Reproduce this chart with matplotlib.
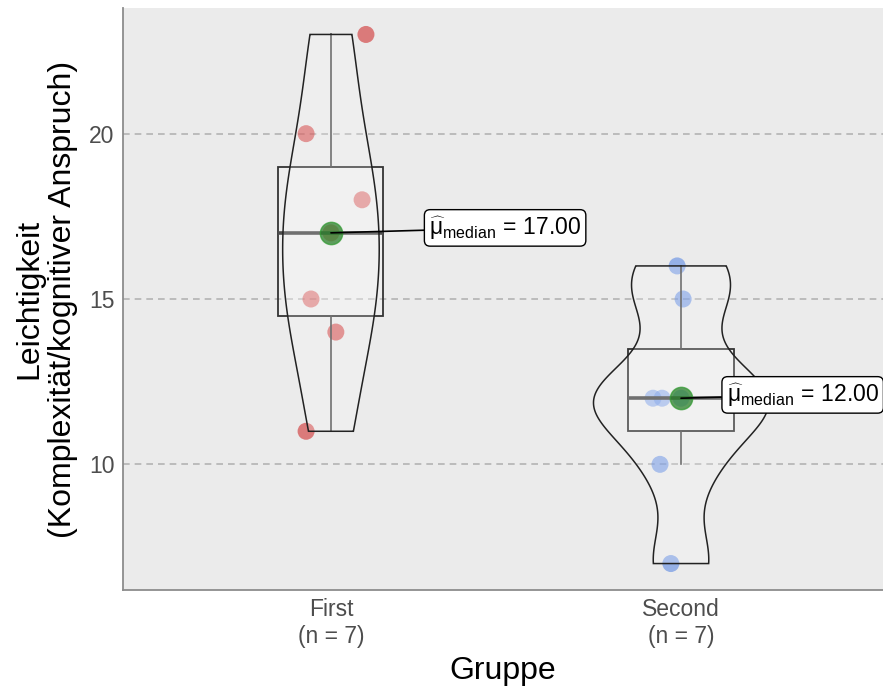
import numpy as np
import matplotlib
matplotlib.use("Agg")
import matplotlib.pyplot as plt

plt.rcParams["font.family"] = ["Liberation Sans", "DejaVu Sans"]
plt.rcParams["mathtext.fontset"] = "custom"
plt.rcParams["mathtext.rm"] = "Liberation Sans"
plt.rcParams["mathtext.it"] = "Liberation Sans:italic"
plt.rcParams["mathtext.bf"] = "Liberation Sans:bold"

# Data
groups = ["First", "Second"]
first_values = [23, 20, 18, 17, 15, 14, 11]
second_values = [16, 15, 12, 12, 12, 10, 7]
# horizontal jitter applied to each point (in category units)
first_jitter = [0.10, -0.071, 0.089, 0.0, -0.057, 0.014, -0.071]
second_jitter = [-0.011, 0.006, -0.08, -0.054, 0.0, -0.06, -0.029]
tick_labels = ["First\n(n = 7)", "Second\n(n = 7)"]
point_colors = ["#CD1E1E", "#4F80E2"]

data = [np.array(first_values, float), np.array(second_values, float)]
jit = [np.array(first_jitter), np.array(second_jitter)]

fig = plt.figure(figsize=(8.83, 6.86), dpi=100)
ax = fig.add_axes([123 / 883, 96 / 686, 760 / 883, 582 / 686])
ax.set_facecolor("#EBEBEB")

ylo, yhi = 7, 23
pad = 0.05 * (yhi - ylo)
ax.set_ylim(ylo - pad, yhi + pad)
ax.set_xlim(0.406, 2.577)


def quantile7(x, q):
    return np.quantile(x, q)


def bw_nrd0(x):
    sd = np.std(x, ddof=1)
    iqr = quantile7(x, 0.75) - quantile7(x, 0.25)
    lo = min(sd, iqr / 1.34)
    return 0.9 * lo * len(x) ** (-0.2)


# violin densities
dens = []
for x in data:
    bw = bw_nrd0(x)
    grid = np.linspace(x.min(), x.max(), 512)
    d = np.exp(-0.5 * ((grid[:, None] - x[None, :]) / bw) ** 2).sum(1) / (len(x) * bw * np.sqrt(2 * np.pi))
    dens.append((grid, d))
dmax = max(d.max() for _, d in dens)

for i, x in enumerate(data):
    pos = i + 1
    # jittered points
    ax.scatter(pos + jit[i], x, s=150, color=point_colors[i], alpha=0.55,
               edgecolors="none", zorder=2)
    # boxplot
    q1, med, q3 = quantile7(x, 0.25), quantile7(x, 0.5), quantile7(x, 0.75)
    iqr = q3 - q1
    lo_w = x[x >= q1 - 1.5 * iqr].min()
    hi_w = x[x <= q3 + 1.5 * iqr].max()
    bw_half = 0.15
    ax.add_patch(plt.Rectangle((pos - bw_half, q1), 2 * bw_half, q3 - q1,
                               facecolor=(1, 1, 1, 0.2), edgecolor="#333333",
                               linewidth=1.3, zorder=3))
    ax.plot([pos - bw_half, pos + bw_half], [med, med], color="#4D4D4D", lw=2.6, zorder=3,
            solid_capstyle="butt")
    ax.plot([pos, pos], [q3, hi_w], color="#4D4D4D", lw=1.2, zorder=3)
    ax.plot([pos, pos], [lo_w, q1], color="#4D4D4D", lw=1.2, zorder=3)
    # violin
    grid, d = dens[i]
    w = 0.25 * d / dmax
    xs = np.concatenate([pos - w, (pos + w)[::-1]])
    ys = np.concatenate([grid, grid[::-1]])
    ax.fill(xs, ys, facecolor=(1, 1, 1, 0.2), edgecolor="#222222", linewidth=1.1, zorder=4)
    # median point
    ax.scatter([pos], [med], s=260, color="#1E7A1E", alpha=0.7, edgecolors="#2F9A2F",
               linewidths=1.0, zorder=6)

# median labels
label_pos = [(1.28, 17.15), (2.13, 12.1)]
for i, x in enumerate(data):
    med = quantile7(x, 0.5)
    ax.annotate(r"$\widehat{\mathrm{μ}}_{\mathrm{median}}\,=\,%.2f$" % med,
                xy=(i + 1, med), xytext=label_pos[i], textcoords="data",
                ha="left", va="center", fontsize=16.5, color="black", zorder=8,
                bbox=dict(boxstyle="round,pad=0.2,rounding_size=0.25", fc="white",
                          ec="black", lw=1.0),
                arrowprops=dict(arrowstyle="-", color="black", lw=1.2,
                                shrinkA=0, shrinkB=0))

ax.set_yticks([10, 15, 20])
ax.yaxis.grid(True, color="#B3B3B3", linestyle=(0, (4, 3)), linewidth=1.2)
ax.set_axisbelow(True)
ax.set_xticks([1, 2])
ax.set_xticklabels(tick_labels)
ax.tick_params(axis="both", length=0, labelsize=16.5, labelcolor="#4D4D4D", pad=6)
for s in ["top", "right"]:
    ax.spines[s].set_visible(False)
for s in ["left", "bottom"]:
    ax.spines[s].set_color("#8C8C8C")
    ax.spines[s].set_linewidth(1.3)

ax.set_xlabel("Gruppe", fontsize=23, labelpad=6)
ax.set_ylabel("Leichtigkeit\n(Komplexität/kognitiver Anspruch)", fontsize=23, labelpad=8,
              linespacing=1.15)

fig.savefig("out.png", dpi=100)
